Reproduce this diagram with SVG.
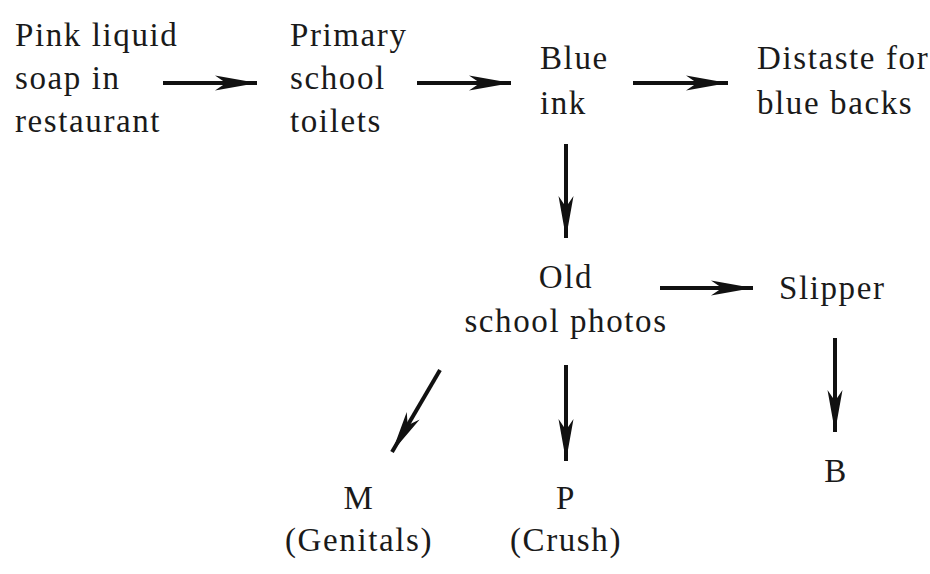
<svg xmlns="http://www.w3.org/2000/svg" width="930" height="574" viewBox="0 0 930 574">
<style>
text{font-family:"Liberation Serif","DejaVu Serif",serif;font-size:33px;fill:#1a1a1a;letter-spacing:1.6px}
.c{text-anchor:middle}
.a{stroke:#111;stroke-width:4;fill:none}
</style>
<defs>
<marker id="ah" markerUnits="userSpaceOnUse" markerWidth="48" markerHeight="20" refX="42" refY="10" orient="auto">
<path d="M0,2.5 L42,10 L0,17.5 L11,10 Z" fill="#111"/>
</marker>
</defs>
<rect width="930" height="574" fill="#fff"/>
<g id="n1"><text x="15" y="46">Pink liquid</text><text x="15" y="89">soap in</text><text x="15" y="132">restaurant</text></g>
<g id="n2"><text x="290" y="46">Primary</text><text x="290" y="89">school</text><text x="290" y="132">toilets</text></g>
<g id="n3"><text x="540" y="69">Blue</text><text x="540" y="114">ink</text></g>
<g id="n4"><text x="757" y="69">Distaste for</text><text x="757" y="114">blue backs</text></g>
<g id="n5"><text class="c" x="566" y="288">Old</text><text class="c" x="566" y="332">school photos</text></g>
<g id="n6"><text x="779" y="299">Slipper</text></g>
<g id="n7"><text class="c" x="836" y="482">B</text></g>
<g id="n8"><text class="c" x="359" y="509">M</text><text class="c" x="359" y="551">(Genitals)</text></g>
<g id="n9"><text class="c" x="566" y="509">P</text><text class="c" x="566" y="551">(Crush)</text></g>
<g id="connectors">
<line class="a" x1="163" y1="83" x2="257" y2="83" marker-end="url(#ah)"/>
<line class="a" x1="417" y1="83" x2="511" y2="83" marker-end="url(#ah)"/>
<line class="a" x1="633" y1="83" x2="728" y2="83" marker-end="url(#ah)"/>
<line class="a" x1="566" y1="144" x2="566" y2="238" marker-end="url(#ah)"/>
<line class="a" x1="660" y1="288" x2="753" y2="288" marker-end="url(#ah)"/>
<line class="a" x1="835" y1="338" x2="835" y2="432" marker-end="url(#ah)"/>
<line class="a" x1="440" y1="370" x2="392" y2="452" marker-end="url(#ah)"/>
<line class="a" x1="566" y1="365" x2="566" y2="461" marker-end="url(#ah)"/>
</g>
</svg>
